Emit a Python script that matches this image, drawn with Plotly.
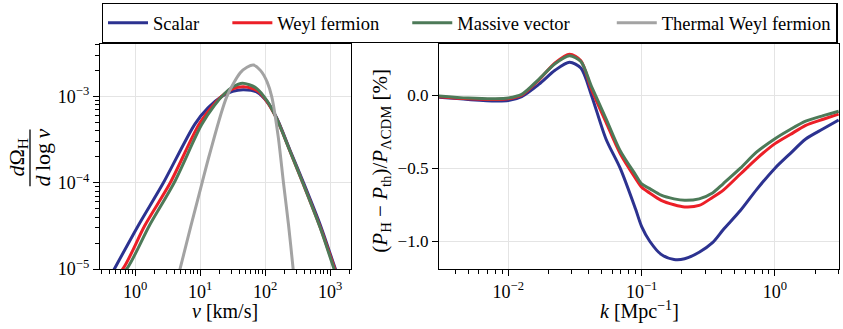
import plotly.graph_objects as go

# left panel: velocity spectra dOmega_H / dlog v
scalar_v = [0.282, 0.479, 1.12, 2.72, 8.3, 13.2, 21.4, 31.6, 46.8, 75.9, 107, 151, 240, 389, 708, 1202, 1995]
scalar_om = [4.8e-6, 1.0e-5, 3.2e-5, 1.0e-4, 4.8e-4, 7.4e-4, 1.0e-3, 1.15e-3, 1.2e-3, 1.12e-3, 8.7e-4, 5.6e-4, 2.4e-4, 1.0e-4, 3.2e-5, 1.0e-5, 3.5e-6]

weyl_v = [0.398, 0.646, 1.41, 3.47, 9.66, 15.8, 22.9, 31.6, 46.8, 75.9, 107, 151, 240, 389, 708, 1175, 1995]
weyl_om = [7.1e-6, 1.0e-5, 3.2e-5, 1.0e-4, 4.8e-4, 7.9e-4, 1.05e-3, 1.23e-3, 1.3e-3, 1.17e-3, 8.7e-4, 5.5e-4, 2.34e-4, 9.5e-5, 3.0e-5, 1.0e-5, 3.2e-6]

vector_v = [0.447, 0.741, 1.66, 3.98, 10.5, 16.6, 23.4, 31.6, 44.7, 72.4, 107, 151, 240, 389, 708, 1148, 1995]
vector_om = [7.1e-6, 1.0e-5, 3.2e-5, 1.0e-4, 4.7e-4, 7.9e-4, 1.07e-3, 1.29e-3, 1.43e-3, 1.26e-3, 8.9e-4, 5.5e-4, 2.34e-4, 9.5e-5, 2.95e-5, 1.0e-5, 3.0e-6]

thermal_v = [3.55, 4.9, 10.7, 14.1, 25.7, 41.7, 52.5, 66.1, 85.1, 107, 126, 158, 191, 229, 269, 295]
thermal_om = [3.5e-6, 1.0e-5, 1.0e-4, 2.2e-4, 1.0e-3, 1.9e-3, 2.19e-3, 2.32e-3, 2.0e-3, 1.48e-3, 1.0e-3, 3.5e-4, 1.0e-4, 3.2e-5, 1.0e-5, 5.0e-6]

# right panel: relative power spectrum difference [%]
k = [0.003, 0.005, 0.008, 0.01, 0.0126, 0.017, 0.0224, 0.0288, 0.035, 0.042, 0.054, 0.069, 0.09, 0.1,
     0.115, 0.14, 0.175, 0.21, 0.27, 0.34, 0.41, 0.55, 0.73, 1.0, 1.3, 1.7, 2.3, 3.0]
dp_scalar = [-0.015, -0.03, -0.04, -0.037, -0.01, 0.075, 0.17, 0.225, 0.185, 0.0, -0.3, -0.5, -0.78, -0.9,
             -1.0, -1.09, -1.125, -1.12, -1.075, -1.01, -0.92, -0.79, -0.645, -0.5, -0.4, -0.3, -0.23, -0.17]
dp_weyl = [-0.01, -0.025, -0.03, -0.025, 0.0, 0.105, 0.22, 0.28, 0.235, 0.04, -0.185, -0.4, -0.57, -0.63,
           -0.67, -0.72, -0.75, -0.765, -0.755, -0.7, -0.65, -0.54, -0.434, -0.332, -0.27, -0.207, -0.165, -0.13]
dp_vector = [-0.005, -0.02, -0.025, -0.02, 0.005, 0.11, 0.215, 0.27, 0.23, 0.06, -0.16, -0.38, -0.545, -0.607,
             -0.64, -0.685, -0.71, -0.72, -0.71, -0.67, -0.605, -0.5, -0.389, -0.298, -0.235, -0.178, -0.14, -0.11]

names = ["Scalar", "Weyl fermion", "Massive vector", "Thermal Weyl fermion"]
colors = ["#2c3290", "#ec1f27", "#4d7a58", "#a3a3a3"]
# trailing non-breaking spaces to spread the legend entries like the original
legend_pad = [5, 5, 8, 0]

serif = "Liberation Serif, DejaVu Serif, serif"

fig = go.Figure()

left = [(scalar_v, scalar_om), (weyl_v, weyl_om), (vector_v, vector_om), (thermal_v, thermal_om)]
for i, (xv, yv) in enumerate(left):
    fig.add_trace(go.Scatter(x=xv, y=yv, mode="lines", name=names[i] + "\u00a0" * legend_pad[i],
                             line=dict(color=colors[i], width=3, shape="spline", smoothing=0.8),
                             xaxis="x", yaxis="y"))

for i, yv in enumerate([dp_scalar, dp_weyl, dp_vector]):
    fig.add_trace(go.Scatter(x=k, y=yv, mode="lines", showlegend=False,
                             line=dict(color=colors[i], width=3, shape="spline", smoothing=0.8),
                             xaxis="x2", yaxis="y2"))

# minor ticks at 2..9 times each decade
def minor_ticks(lo, hi):
    return [m * 10.0 ** e for e in range(lo, hi) for m in range(2, 10)]

axis_common = dict(showline=True, linecolor="black", linewidth=1.3, mirror=True,
                   ticks="outside", ticklen=6, tickwidth=1.2, tickcolor="black",
                   showgrid=True, gridcolor="#e4e4e4", gridwidth=1, zeroline=False,
                   tickfont=dict(family=serif, size=18, color="black"))
minor_style = dict(ticks="outside", ticklen=3.5, tickwidth=1, tickcolor="black", showgrid=False,
                   tickmode="array")

fig.update_layout(
    width=843, height=329,
    margin=dict(l=100, r=4, t=43, b=60),
    plot_bgcolor="white", paper_bgcolor="white",
    xaxis=dict(axis_common, type="log", domain=[0, 0.3397], range=[-0.54, 3.32],
               tickvals=[1, 10, 100, 1000],
               ticktext=["10<sup>0</sup>", "10<sup>1</sup>", "10<sup>2</sup>", "10<sup>3</sup>"],
               minor=dict(minor_style, tickvals=minor_ticks(-1, 4))),
    yaxis=dict(axis_common, type="log", range=[-5, -2.39],
               tickvals=[1e-5, 1e-4, 1e-3],
               ticktext=["10<sup>\u22125</sup>", "10<sup>\u22124</sup>", "10<sup>\u22123</sup>"],
               minor=dict(minor_style, tickvals=minor_ticks(-5, -2))),
    xaxis2=dict(axis_common, type="log", domain=[0.4587, 1], range=[-2.52, 0.48], anchor="y2",
                tickvals=[0.01, 0.1, 1],
                ticktext=["10<sup>\u22122</sup>", "10<sup>\u22121</sup>", "10<sup>0</sup>"],
                minor=dict(minor_style, tickvals=minor_ticks(-3, 1))),
    yaxis2=dict(axis_common, range=[-1.19, 0.35], anchor="x2",
                tickvals=[-1.0, -0.5, 0.0], ticktext=["\u22121.0", "\u22120.5", "0.0"],
                tickfont=dict(family=serif, size=17, color="black")),
    legend=dict(orientation="h", x=0.0023, y=(269 - 3) / 226, xanchor="left", yanchor="top",
                bordercolor="black", borderwidth=1.3, bgcolor="white",
                font=dict(family=serif, size=18.5, color="black"),
                itemwidth=40),
)

title_font = dict(family=serif, size=20, color="black")
fig.add_annotation(text="<i>v</i> [km/s]", x=0.169, y=-0.186, xref="paper", yref="paper",
                   xanchor="center", yanchor="middle", showarrow=False, font=title_font)
fig.add_annotation(text="<i>k</i> [Mpc<sup>\u22121</sup>]", x=0.7307, y=-0.186, xref="paper", yref="paper",
                   xanchor="center", yanchor="middle", showarrow=False, font=title_font)
fig.add_annotation(text="(<i>P</i><sub>H</sub> \u2212 <i>P</i><sub>th</sub>)/<i>P</i><sub>\u039bCDM</sub> [%]",
                   x=0.379, y=0.482, xref="paper", yref="paper", textangle=-90,
                   xanchor="center", yanchor="middle", showarrow=False,
                   font=dict(family=serif, size=21, color="black"))
# stacked fraction for the left y label
frac_font = dict(family=serif, size=22, color="black")
fig.add_annotation(text="<i>d</i>\u03a9<sub>H</sub>", x=(18 - 100) / 739, y=(269 - 157) / 226,
                   xref="paper", yref="paper", xanchor="center", yanchor="middle",
                   textangle=-90, showarrow=False, font=frac_font)
fig.add_annotation(text="<i>d</i>\u2009log\u2009<i>v</i>", x=(42 - 100) / 739, y=(269 - 157) / 226,
                   xref="paper", yref="paper", xanchor="center", yanchor="middle",
                   textangle=-90, showarrow=False, font=frac_font)
fig.add_shape(type="line", xref="paper", yref="paper",
              x0=(30 - 100) / 739, x1=(30 - 100) / 739, y0=(269 - 186) / 226, y1=(269 - 129) / 226,
              line=dict(color="black", width=1.3))

# the page body has a default 8px margin; drop it so the figure sits at the window corner
fig.write_html("out.html", config={"displayModeBar": False},
               post_script="document.body.style.margin = '0';")
